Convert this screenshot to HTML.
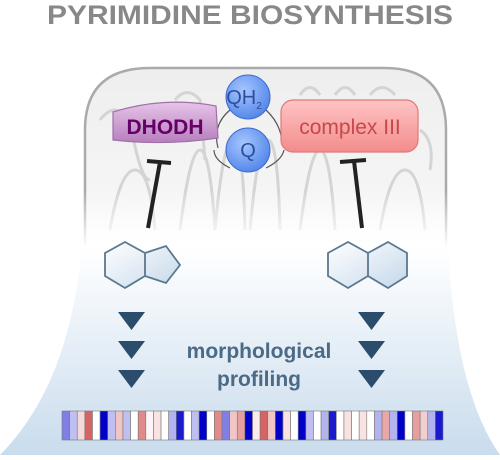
<!DOCTYPE html>
<html><head><meta charset="utf-8"><style>
html,body{margin:0;padding:0;background:#fff;width:500px;height:460px;overflow:hidden}
svg{display:block}
text{font-family:"Liberation Sans",Arial,sans-serif}
</style></head><body>
<svg width="500" height="460" viewBox="0 0 500 460">
<defs>
<linearGradient id="bg" x1="0" y1="0" x2="0" y2="1"><stop offset="0" stop-color="#ffffff" stop-opacity="0"/><stop offset="0.22" stop-color="#ffffff" stop-opacity="1"/><stop offset="1" stop-color="#c9dced"/></linearGradient>
<linearGradient id="mito" x1="0" y1="0" x2="0" y2="1"><stop offset="0" stop-color="#eeeeee"/><stop offset="0.7" stop-color="#f6f6f6"/><stop offset="1" stop-color="#ffffff"/></linearGradient>
<radialGradient id="qg" cx="0.4" cy="0.35" r="0.7"><stop offset="0" stop-color="#a8c6ff"/><stop offset="1" stop-color="#4f84e8"/></radialGradient>
<linearGradient id="dg" x1="0" y1="0" x2="0" y2="1"><stop offset="0" stop-color="#e6c4e8"/><stop offset="1" stop-color="#b77fbf"/></linearGradient>
<linearGradient id="cg" x1="0" y1="0" x2="0" y2="1"><stop offset="0" stop-color="#ffc4c4"/><stop offset="1" stop-color="#f38c8c"/></linearGradient>
<linearGradient id="molg" x1="0" y1="0" x2="1" y2="1"><stop offset="0" stop-color="#ffffff"/><stop offset="1" stop-color="#c5d8ea"/></linearGradient>
</defs>
<text x="250" y="24" text-anchor="middle" font-size="27" font-weight="bold" fill="#888" textLength="406" lengthAdjust="spacingAndGlyphs">PYRIMIDINE BIOSYNTHESIS</text>
<path d="M85 270 L85 130 Q85 68 150 68 L385 68 Q446 68 446 130 L446 270" fill="url(#mito)" stroke="#aaa" stroke-width="2.5"/>
<path d="M100 120 q15 -20 30 0 q10 60 20 60 M175 100 q12 -15 25 0 l5 60 M300 95 q10 -15 20 0 M335 95 q10 -15 20 0 M370 95 q12 -15 25 0 M110 230 q10 -60 25 -60 q15 0 20 60 M180 230 q10 -80 20 -80 q10 0 15 80 M215 230 q8 -90 18 -90 q10 0 12 90 M250 230 q8 -90 18 -90 q10 0 12 90 M300 230 q10 -80 20 -80 q10 0 15 80 M380 230 q10 -60 25 -60 q15 0 20 60 M420 130 q15 10 10 40" fill="none" stroke="#d4d4d4" stroke-width="3"/>
<path d="M84 190 L447 190 Q447 380 500 455 L0 455 Q84 370 84 190 Z" fill="url(#bg)"/>
<rect x="0" y="455" width="500" height="5" fill="#fff"/>
<path d="M230 110 Q212 125 218 148 M266 110 Q282 125 282 145 M266 168 Q282 160 284 150 M230 168 Q214 160 214 150" fill="none" stroke="#555" stroke-width="1.2"/>
<path d="M113 112 Q165 96 216 106 L218 138 Q165 146 113 140 Z" fill="url(#dg)" stroke="#a070a8" stroke-width="1.2"/>
<text x="165" y="134" text-anchor="middle" font-size="21" font-weight="bold" fill="#660066">DHODH</text>
<rect x="281" y="100" width="137" height="52" rx="12" fill="url(#cg)" stroke="#e07a7a" stroke-width="1.2"/>
<text x="350" y="134" text-anchor="middle" font-size="21" fill="#c84848">complex III</text>
<circle cx="248" cy="97" r="22" fill="url(#qg)" stroke="#3c6bd0"/>
<text x="244" y="104" text-anchor="middle" font-size="20" fill="#2d4f9a">QH<tspan font-size="10" dy="5">2</tspan></text>
<circle cx="248" cy="150" r="22" fill="url(#qg)" stroke="#3c6bd0"/>
<text x="248" y="157" text-anchor="middle" font-size="20" fill="#2d4f9a">Q</text>
<g stroke="#222" stroke-width="4"><line x1="147" y1="161" x2="171" y2="163"/><line x1="160" y1="162" x2="148" y2="228"/></g>
<g stroke="#222" stroke-width="4"><line x1="340" y1="162" x2="366" y2="160"/><line x1="354" y1="161" x2="362" y2="228"/></g>
<path d="M125 242 L145 253 L145 276 L125 288 L105 276 L105 253 Z M145 253 L166 246 L180 265 L166 283 L145 276" fill="url(#molg)" stroke="#5a7890" stroke-width="1.8"/>
<path d="M348 242 L368 253 L368 276 L348 288 L328 276 L328 253 Z M368 253 L388 242 L407 253 L407 276 L388 288 L368 276" fill="url(#molg)" stroke="#5a7890" stroke-width="1.8"/>
<g fill="#2b4d6b"><path d="M118 312 L145 312 L131.5 330 Z"/><path d="M118 341 L145 341 L131.5 359 Z"/><path d="M118 370 L145 370 L131.5 388 Z"/></g>
<g fill="#2b4d6b"><path d="M358 312 L385 312 L371.5 330 Z"/><path d="M358 341 L385 341 L371.5 359 Z"/><path d="M358 370 L385 370 L371.5 388 Z"/></g>
<text x="259" y="358" text-anchor="middle" font-size="21" font-weight="bold" fill="#4a6a86">morphological</text>
<text x="259" y="386" text-anchor="middle" font-size="21" font-weight="bold" fill="#4a6a86">profiling</text>
<g id="barcode"></g>
</svg>
<script>
const cellValues = [-0.5,-0.25,0.2,0.8,0,-1,-0.25,0.3,-0.25,0,0.6,0.05,0.15,0,-0.3,-0.9,0,-0.25,-1,0,0.6,-0.5,0.3,0.5,-1,0.1,0.8,0.3,-1,0.15,0,-1,-0.25,0,-0.3,-0.9,0,0.15,0,0.15,0,-0.3,0.45,-0.3,-1,0,0.5,0.25,-0.3,-0.9];
const barX0 = 62, barX1 = 443, barY = 411, barH = 29;
function colorOf(v){
  if (v >= 0){ const g = Math.round(255 - v*(255-60)); return `rgb(${Math.round(255 - v*50)},${g},${g})`; }
  const a = -v; const c = Math.round(255 - a*255); return `rgb(${c},${c},${Math.round(255 - a*55)})`;
}
const g = document.getElementById('barcode');
const w = (barX1 - barX0) / cellValues.length;
cellValues.forEach((v,i)=>{
  const r = document.createElementNS('http://www.w3.org/2000/svg','rect');
  r.setAttribute('x', barX0 + i*w); r.setAttribute('y', barY);
  r.setAttribute('width', w); r.setAttribute('height', barH);
  r.setAttribute('fill', colorOf(v)); r.setAttribute('stroke', '#777'); r.setAttribute('stroke-width', '0.6');
  
  
  g.appendChild(r);
});
</script>
</body></html>
